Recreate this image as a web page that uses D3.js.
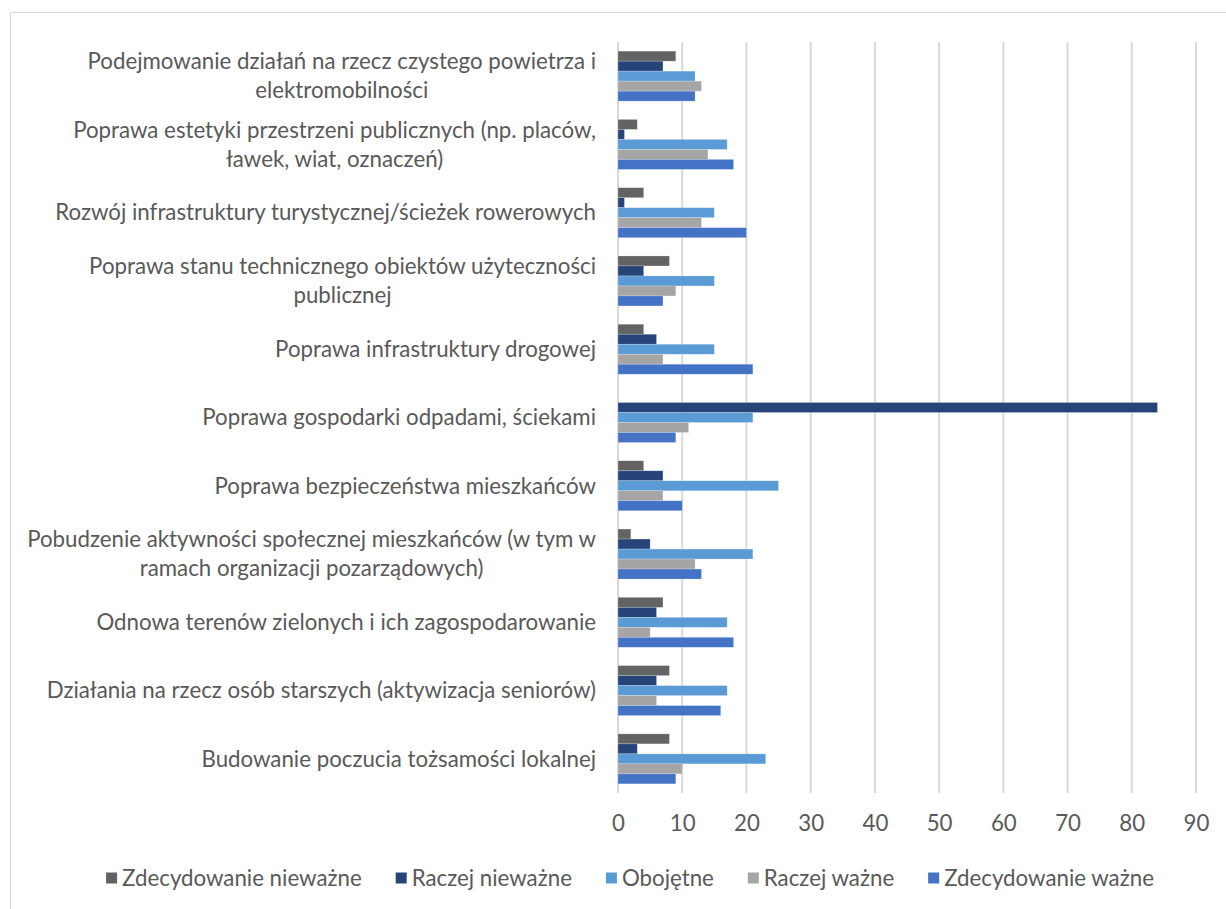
<!DOCTYPE html>
<html>
<head>
<meta charset="utf-8">
<script src="https://cdn.jsdelivr.net/npm/d3@7"></script>
<style>
  body { margin: 0; background: #fff; }
  svg { display: block; font-family: Lato, "Open Sans", sans-serif; }
</style>
</head>
<body>
<svg id="chart" width="1226" height="909"></svg>
<script>
// categories, top to bottom as in the picture
const categories = [
  "Podejmowanie działań na rzecz czystego powietrza i elektromobilności",
  "Poprawa estetyki przestrzeni publicznych (np. placów, ławek, wiat, oznaczeń)",
  "Rozwój infrastruktury turystycznej/ścieżek rowerowych",
  "Poprawa stanu technicznego obiektów użyteczności publicznej",
  "Poprawa infrastruktury drogowej",
  "Poprawa gospodarki odpadami, ściekami",
  "Poprawa bezpieczeństwa mieszkańców",
  "Pobudzenie aktywności społecznej mieszkańców (w tym w ramach organizacji pozarządowych)",
  "Odnowa terenów zielonych i ich zagospodarowanie",
  "Działania na rzecz osób starszych (aktywizacja seniorów)",
  "Budowanie poczucia tożsamości lokalnej"
];

const seriesNames = ["Zdecydowanie nieważne", "Raczej nieważne", "Obojętne", "Raczej ważne", "Zdecydowanie ważne"];
const seriesColors = ["#636363", "#264478", "#5b9bd5", "#a5a5a5", "#4472c4"];

const zdecydowanieNiewazne = [9, 3, 4, 8, 4, 0, 4, 2, 7, 8, 8];
const raczejNiewazne       = [7, 1, 1, 4, 6, 84, 7, 5, 6, 6, 3];
const obojetne             = [12, 17, 15, 15, 15, 21, 25, 21, 17, 17, 23];
const raczejWazne          = [13, 14, 13, 9, 7, 11, 7, 12, 5, 6, 10];
const zdecydowanieWazne    = [12, 18, 20, 7, 21, 9, 10, 13, 18, 16, 9];

const xTicks = [0, 10, 20, 30, 40, 50, 60, 70, 80, 90];

const seriesValues = [zdecydowanieNiewazne, raczejNiewazne, obojetne, raczejWazne, zdecydowanieWazne];

const svg = d3.select("#chart");
const textColor = "#595959";
const gridColor = "#d9d9d9";

// chart border (goes past the right and bottom edges)
svg.append("rect")
  .attr("x", 10.5).attr("y", 12.5)
  .attr("width", 1300).attr("height", 1000)
  .attr("fill", "#fff")
  .attr("stroke", gridColor).attr("stroke-width", 1);

const plot = { left: 618, right: 1196, top: 42, bottom: 793 };

// measure font so labels match the original widths
const probe = svg.append("text").attr("font-size", 20)
  .text("Rozwój infrastruktury turystycznej/ścieżek rowerowych");
const fontSize = 20 * 541 / probe.node().getComputedTextLength();
probe.remove();

const x = d3.scaleLinear().domain([0, 90]).range([plot.left, plot.right]);
const y0 = d3.scaleBand().domain(categories).range([plot.top, plot.bottom])
  .paddingInner(0.268).paddingOuter(0.134);
const y1 = d3.scaleBand().domain(seriesNames).range([0, y0.bandwidth()]);

// grid lines
svg.append("g")
  .selectAll("line")
  .data(xTicks)
  .join("line")
  .attr("x1", d => x(d)).attr("x2", d => x(d))
  .attr("y1", plot.top).attr("y2", plot.bottom)
  .attr("stroke", gridColor).attr("stroke-width", 2);

// x axis labels
const xAxis = svg.append("g")
  .attr("transform", `translate(0,${plot.bottom})`)
  .call(d3.axisBottom(x).tickValues(xTicks).tickSize(0).tickPadding(22));
xAxis.select(".domain").remove();
xAxis.selectAll("text")
  .attr("font-family", "Lato, 'Open Sans', sans-serif")
  .attr("font-size", fontSize)
  .attr("fill", textColor)
  .attr("dy", "0.35em")
  .attr("y", 30);

// bars
const groups = svg.append("g")
  .selectAll("g")
  .data(categories)
  .join("g")
  .attr("transform", d => `translate(0,${y0(d)})`);

groups.selectAll("rect")
  .data((c, i) => seriesNames.map((s, j) => ({ s: s, v: seriesValues[j][i], color: seriesColors[j] })))
  .join("rect")
  .attr("x", x(0))
  .attr("y", d => y1(d.s))
  .attr("width", d => x(d.v) - x(0))
  .attr("height", y1.bandwidth())
  .attr("fill", d => d.color)
  .attr("stroke", "#fff").attr("stroke-opacity", 0.35).attr("stroke-width", 0.6);

// category labels, wrapped and centered per block, right edge near the axis
const labelRight = 596;
const lineHeight = 29;
const wrapWidth = 584;

svg.append("g").selectAll("text")
  .data(categories)
  .join("text")
  .attr("font-size", fontSize)
  .attr("fill", textColor)
  .attr("text-anchor", "middle")
  .each(function(d) {
    const t = d3.select(this);
    const words = d.split(" ");
    const lines = [];
    let line = [];
    const tmp = t.append("tspan");
    for (const w of words) {
      line.push(w);
      tmp.text(line.join(" "));
      if (tmp.node().getComputedTextLength() > wrapWidth && line.length > 1) {
        line.pop();
        lines.push(line.join(" "));
        line = [w];
      }
    }
    lines.push(line.join(" "));
    tmp.remove();
    let maxW = 0;
    lines.forEach(l => {
      const s = t.append("tspan").text(l);
      maxW = Math.max(maxW, s.node().getComputedTextLength());
      s.remove();
    });
    const cx = labelRight - maxW / 2;
    const cy = y0(d) + y0.bandwidth() / 2;
    const startY = cy - (lines.length - 1) * lineHeight / 2;
    lines.forEach((l, k) => {
      t.append("tspan")
        .attr("x", cx)
        .attr("y", startY + k * lineHeight)
        .attr("dy", "0.35em")
        .text(l);
    });
  });

// legend
const legend = svg.append("g");
const legendY = 878;
const sw = 11, swGap = 5, itemGap = 34;
let lx = 0;
seriesNames.forEach((name, i) => {
  const g = legend.append("g");
  g.append("rect")
    .attr("x", lx).attr("y", legendY - sw / 2)
    .attr("width", sw).attr("height", sw)
    .attr("fill", seriesColors[i]);
  const t = g.append("text")
    .attr("x", lx + sw + swGap).attr("y", legendY)
    .attr("dy", "0.35em")
    .attr("font-size", fontSize)
    .attr("fill", textColor)
    .text(name);
  lx += sw + swGap + t.node().getComputedTextLength() + itemGap;
});
const legendWidth = lx - itemGap;
legend.attr("transform", `translate(${630 - legendWidth / 2},0)`);
</script>
</body>
</html>
